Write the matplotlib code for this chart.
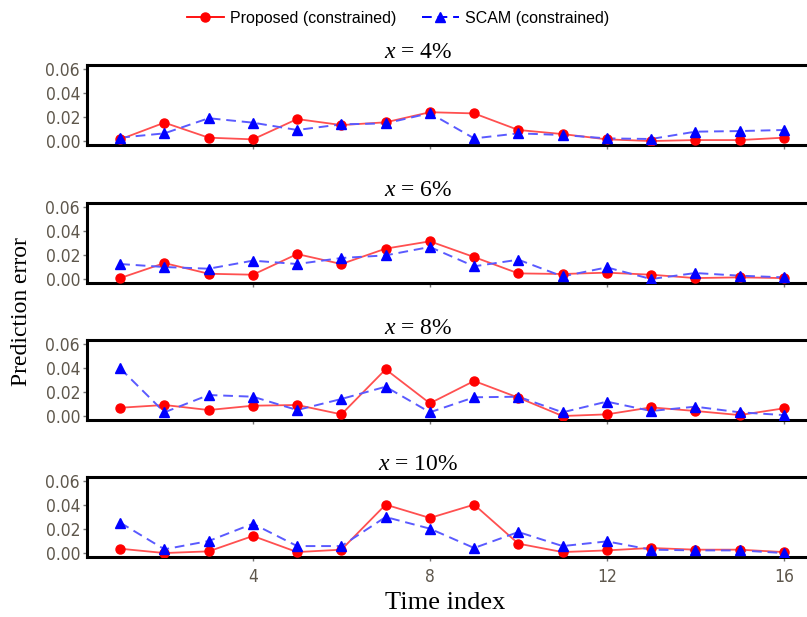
import matplotlib
matplotlib.use("Agg")
import matplotlib.pyplot as plt
from matplotlib.lines import Line2D

plt.rcParams["mathtext.fontset"] = "custom"
plt.rcParams["mathtext.rm"] = "Liberation Serif"
plt.rcParams["mathtext.it"] = "Liberation Serif:italic"

time_index = list(range(1, 17))
shares = ["4%", "6%", "8%", "10%"]

proposed_4 = [0.0014, 0.0153, 0.0028, 0.0014, 0.0183, 0.0133, 0.0156, 0.0240,
              0.0230, 0.0092, 0.0058, 0.0014, 0.0000, 0.0008, 0.0008, 0.0028]
scam_4 = [0.0028, 0.0064, 0.0190, 0.0153, 0.0092, 0.0139, 0.0147, 0.0232,
          0.0022, 0.0064, 0.0050, 0.0022, 0.0017, 0.0078, 0.0083, 0.0092]

proposed_6 = [0.0008, 0.0133, 0.0044, 0.0036, 0.0208, 0.0125, 0.0253, 0.0314,
              0.0183, 0.0047, 0.0042, 0.0053, 0.0036, 0.0008, 0.0014, 0.0008]
scam_6 = [0.0125, 0.0100, 0.0086, 0.0153, 0.0125, 0.0175, 0.0197, 0.0267,
          0.0106, 0.0161, 0.0022, 0.0097, 0.0000, 0.0050, 0.0028, 0.0014]

proposed_8 = [0.0069, 0.0092, 0.0050, 0.0086, 0.0092, 0.0014, 0.0389, 0.0106,
              0.0292, 0.0153, 0.0000, 0.0014, 0.0072, 0.0042, 0.0008, 0.0064]
scam_8 = [0.0397, 0.0031, 0.0175, 0.0161, 0.0050, 0.0142, 0.0244, 0.0031,
          0.0156, 0.0161, 0.0031, 0.0120, 0.0042, 0.0078, 0.0031, 0.0008]

proposed_10 = [0.0036, 0.0000, 0.0014, 0.0142, 0.0008, 0.0028, 0.0403, 0.0292,
               0.0403, 0.0078, 0.0008, 0.0022, 0.0042, 0.0028, 0.0028, 0.0008]
scam_10 = [0.0253, 0.0031, 0.0100, 0.0244, 0.0058, 0.0058, 0.0300, 0.0203,
           0.0042, 0.0175, 0.0058, 0.0097, 0.0028, 0.0022, 0.0022, 0.0000]

proposed = [proposed_4, proposed_6, proposed_8, proposed_10]
scam = [scam_4, scam_6, scam_8, scam_10]

y_ticks = [0.00, 0.02, 0.04, 0.06]
x_ticks = [4, 8, 12, 16]

W, H = 807, 617
fig = plt.figure(figsize=(W / 100, H / 100), dpi=100)

tick_color = "#5e574c"
serif = "Liberation Serif"

panel_tops = [65, 203, 340, 477]
panel_h = 80
left_px, right_px = 87, 817

for i, top in enumerate(panel_tops):
    ax = fig.add_axes([left_px / W, 1 - (top + panel_h) / H,
                       (right_px - left_px) / W, panel_h / H])
    ax.plot(time_index, proposed[i], color="#ff5050", lw=1.3, zorder=2)
    ax.plot(time_index, proposed[i], ls="none", marker="o", ms=6.5,
            color="#ff0000", zorder=4)
    ax.plot(time_index, scam[i], color="#5a5aff", lw=1.4, ls=(0, (5, 3)), zorder=3)
    ax.plot(time_index, scam[i], ls="none", marker="^", ms=7,
            color="#0000ff", zorder=5)
    ax.set_xlim(0.25, 16.75)
    ax.set_ylim(-0.0033, 0.0633)
    ax.set_yticks(y_ticks)
    ax.set_yticklabels([f"{v:.2f}" for v in y_ticks], fontfamily="DejaVu Sans",
                       fontstretch="condensed", fontsize=12.5, color=tick_color)
    ax.set_xticks(x_ticks)
    if i == 3:
        ax.set_xticklabels([str(v) for v in x_ticks], fontfamily="DejaVu Sans",
                           fontstretch="condensed", fontsize=12.5, color=tick_color)
    else:
        ax.set_xticklabels([])
    ax.tick_params(axis="y", length=3, width=1, color="#777777", pad=2)
    ax.tick_params(axis="x", length=3, width=1, color="#777777", pad=5)
    for sp in ax.spines.values():
        sp.set_linewidth(2.2)
        sp.set_color("black")
    fig.text(418 / W, 1 - (top - 12) / H, f"$x$ = {shares[i]}",
             ha="center", va="center", fontfamily=serif, fontsize=17)

fig.text(22 / W, 1 - 312 / H, "Prediction error", rotation=90,
         ha="center", va="center", fontfamily=serif, fontsize=17)
fig.text(445 / W, 1 - 603 / H, "Time index", ha="center", va="center",
         fontfamily=serif, fontsize=19)

handles = [
    Line2D([], [], color="#ff0000", lw=1.3, marker="o", ms=6.5),
    Line2D([], [], color="#0000ff", lw=1.4, ls=(0, (5, 3)), marker="^", ms=7),
]
fig.legend(handles, ["Proposed (constrained)", "SCAM (constrained)"],
           loc="center", bbox_to_anchor=(398 / W, 1 - 18 / H), ncol=2,
           frameon=False, handlelength=2.3, columnspacing=1.6, handletextpad=0.4,
           prop={"family": "Liberation Sans", "size": 11.5})

fig.savefig("out.png", dpi=100)
